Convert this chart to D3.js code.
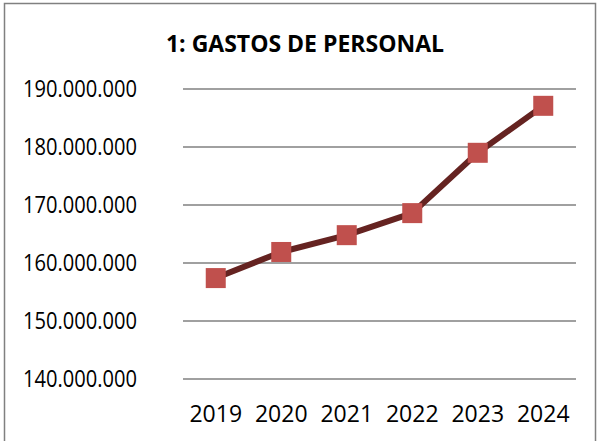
<!DOCTYPE html>
<html>
<head>
<meta charset="utf-8">
<script src="https://cdn.jsdelivr.net/npm/d3@7.9.0/dist/d3.min.js"></script>
<style>
  body { margin: 0; background: #fff; }
  svg { display: block; }
</style>
</head>
<body>
<svg id="chart" width="600" height="441"></svg>
<script>
// data
const years = ["2019", "2020", "2021", "2022", "2023", "2024"];
const gastos = [157400000, 161900000, 164800000, 168600000, 179000000, 187100000];
const yTicks = [140000000, 150000000, 160000000, 170000000, 180000000, 190000000];
const title = "1: GASTOS DE PERSONAL";

const width = 600, height = 441;
const margin = { left: 183, right: 24, top: 89, bottom: 62 };
const font = "'Open Sans', sans-serif";

const svg = d3.select("#chart");

// outer frame (bottom edge falls off the picture)
svg.append("rect")
    .attr("x", 4.5).attr("y", 3.5)
    .attr("width", 591).attr("height", 445)
    .attr("fill", "none")
    .attr("stroke", "#808080")
    .attr("stroke-width", 1.5);

let x = d3.scaleBand()
    .domain(years)
    .range([margin.left, width - margin.right]);

let y = d3.scaleLinear()
    .domain([140000000, 190000000])
    .range([height - margin.bottom, margin.top]);

let fmt = d => d3.format(",")(d).replace(/,/g, ".");

// gridlines
svg.append("g")
   .selectAll("line")
   .data(yTicks)
   .enter()
   .append("line")
   .attr("x1", margin.left)
   .attr("x2", width - margin.right)
   .attr("y1", d => y(d))
   .attr("y2", d => y(d))
   .attr("stroke", "#a0a0a0")
   .attr("stroke-width", 2);

// y labels (squeezed a bit, the original font is narrower)
svg.append("g")
   .selectAll("text")
   .data(yTicks)
   .enter()
   .append("text")
   .attr("x", 137)
   .attr("y", d => y(d))
   .attr("dy", "0.36em")
   .attr("text-anchor", "end")
   .attr("font-family", font)
   .attr("font-size", 23)
   .attr("textLength", 114)
   .attr("lengthAdjust", "spacingAndGlyphs")
   .attr("fill", "#000")
   .text(d => fmt(d));

// x labels
svg.append("g")
   .selectAll("text")
   .data(years)
   .enter()
   .append("text")
   .attr("x", d => x(d) + x.bandwidth() / 2)
   .attr("y", 422)
   .attr("text-anchor", "middle")
   .attr("font-family", font)
   .attr("font-size", 23)
   .attr("fill", "#000")
   .text(d => d);

// title
svg.append("text")
   .attr("x", 305)
   .attr("y", 52)
   .attr("text-anchor", "middle")
   .attr("font-family", font)
   .attr("font-weight", "bold")
   .attr("font-size", 23)
   .attr("fill", "#000")
   .text(title);

// the line
let line = d3.line()
    .x((d, i) => x(years[i]) + x.bandwidth() / 2)
    .y(d => y(d));

svg.append("path")
   .datum(gastos)
   .attr("d", line)
   .attr("fill", "none")
   .attr("stroke", "#652321")
   .attr("stroke-width", 6)
   .attr("stroke-linejoin", "round");

// square markers
let size = 20;
svg.append("g")
   .selectAll("rect")
   .data(gastos)
   .enter()
   .append("rect")
   .attr("x", (d, i) => x(years[i]) + x.bandwidth() / 2 - size / 2)
   .attr("y", d => y(d) - size / 2)
   .attr("width", size)
   .attr("height", size)
   .attr("fill", "#c0504d");
</script>
</body>
</html>
